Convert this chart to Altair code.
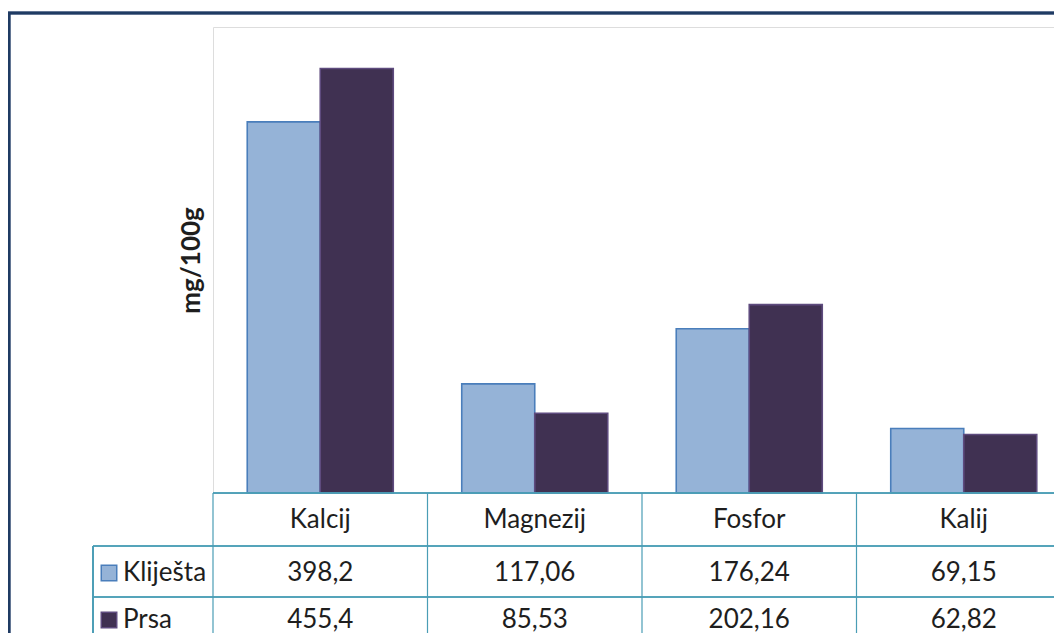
import altair as alt
import pandas as pd

categories = ["Kalcij", "Magnezij", "Fosfor", "Kalij"]
series = ["Kliješta", "Prsa"]
klijesta = [398.2, 117.06, 176.24, 69.15]
prsa = [455.4, 85.53, 202.16, 62.82]

fills = ["#95B3D7", "#403152"]
strokes = ["#4A7EBB", "#5E4B7E"]
line_col = "#4A9DB5"
txt_col = "#1E1E1E"
FONT = "Lato"
FS = 26

rows = []
for s, vals in zip(series, [klijesta, prsa]):
    for c, v in zip(categories, vals):
        rows.append({"cat": c, "series": s, "value": v,
                     "label": f"{v:g}".replace(".", ",")})
df = pd.DataFrame(rows)
cats_df = pd.DataFrame({"cat": categories})
ser_df = pd.DataFrame({"series": series})

W, H = 841, 466
FULL = 858

xenc = alt.X("cat:N", sort=categories,
             scale=alt.Scale(domain=categories, range=[0, FULL], paddingInner=0, paddingOuter=0),
             axis=None)
fill_enc = alt.Color("series:N", scale=alt.Scale(domain=series, range=fills), legend=None)
stroke_enc = alt.Stroke("series:N", scale=alt.Scale(domain=series, range=strokes), legend=None)

base = alt.Chart(df)

bars = base.mark_bar(strokeWidth=1.6).encode(
    x=xenc,
    xOffset=alt.XOffset("series:N", sort=series,
                        scale=alt.Scale(domain=series, paddingInner=0, paddingOuter=0.469)),
    y=alt.Y("value:Q", scale=alt.Scale(domain=[0, 500]),
            axis=alt.Axis(title="mg/100g", labels=False, ticks=False, domain=False, grid=False,
                          titleFont=FONT, titleFontSize=FS, titleFontWeight="bold",
                          titleColor=txt_col, titlePadding=9)),
    color=fill_enc,
    stroke=stroke_enc,
)

# table lines
vlines = alt.Chart(cats_df).mark_rule(color=line_col, strokeWidth=1.2).encode(
    x=alt.X("cat:N", sort=categories, bandPosition=0,
            scale=alt.Scale(domain=categories, range=[0, FULL], paddingInner=0, paddingOuter=0),
            axis=None),
    y=alt.value(H), y2=alt.value(H + 300),
)
hline0 = alt.Chart(cats_df).mark_rule(color=line_col, strokeWidth=1.2).encode(
    x=alt.value(0), x2=alt.value(FULL + 50), y=alt.value(H))
hline1 = alt.Chart(cats_df).mark_rule(color=line_col, strokeWidth=1.2).encode(
    x=alt.value(-120), x2=alt.value(FULL + 50), y=alt.value(H + 53))
hline2 = alt.Chart(cats_df).mark_rule(color=line_col, strokeWidth=1.2).encode(
    x=alt.value(-120), x2=alt.value(FULL + 50), y=alt.value(H + 104))
vleft = alt.Chart(cats_df).mark_rule(color=line_col, strokeWidth=1.2).encode(
    x=alt.value(-120), y=alt.value(H + 53), y2=alt.value(H + 300))

# header row
header = alt.Chart(cats_df).mark_text(font=FONT, fontSize=FS, color=txt_col, baseline="middle").encode(
    x=xenc, y=alt.value(H + 27), text="cat:N")

row_layers = []
for s, yc in zip(series, [H + 80, H + 127]):
    vals_txt = base.transform_filter(alt.datum.series == s).mark_text(
        font=FONT, fontSize=FS, color=txt_col, baseline="middle").encode(
        x=xenc, y=alt.value(yc), text="label:N")
    sw = alt.Chart(ser_df).transform_filter(alt.datum.series == s).mark_square(
        size=240, opacity=1, strokeWidth=1.5).encode(
        x=alt.value(-104), y=alt.value(yc), color=fill_enc, stroke=stroke_enc)
    lab = alt.Chart(ser_df).transform_filter(alt.datum.series == s).mark_text(
        font=FONT, fontSize=FS, color=txt_col, align="left", baseline="middle").encode(
        x=alt.value(-90), y=alt.value(yc), text="series:N")
    row_layers += [vals_txt, sw, lab]

frame = alt.Chart(cats_df).mark_rect(fill="transparent", stroke="#1F3B63", strokeWidth=2.5).encode(
    x=alt.value(-204), x2=alt.value(2000), y=alt.value(-14), y2=alt.value(2000))

chart = alt.layer(
    bars, hline0, hline1, hline2, vlines, vleft, header, *row_layers, frame
).properties(
    width=W, height=H,
    autosize=alt.AutoSizeParams(type="none"),
    padding={"left": 205, "top": 19, "right": 0, "bottom": 625 - 19 - H},
).configure_view(
    fill="#F0F0F0", stroke="transparent"
).configure(background="white")

chart.save("out.html", embed_options={"renderer": "svg", "actions": False})
